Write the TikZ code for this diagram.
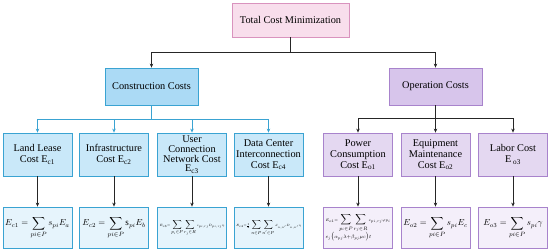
\documentclass[tikz,border=0pt]{standalone}
\usepackage{amsmath,amssymb}
\usepackage{graphicx}
\usepackage{fontspec}
\setmainfont{Liberation Serif}
\usepackage{tikz}
\usetikzlibrary{positioning, arrows.meta, calc}
\definecolor{pinkfill}{HTML}{F8DEEC}
\definecolor{pinkline}{HTML}{D993BE}
\definecolor{bluefill}{HTML}{ABDAF5}
\definecolor{blueline}{HTML}{3AA3D2}
\definecolor{bluelight}{HTML}{C9E8F9}
\definecolor{bluepale}{HTML}{E6F4FC}
\definecolor{violfill}{HTML}{D7C5EB}
\definecolor{violline}{HTML}{A883CC}
\definecolor{viollight}{HTML}{E4D8F1}
\definecolor{violpale}{HTML}{F4EFFA}
\tikzset{
  costbox/.style={draw, line width=0.8pt, align=center, inner sep=1pt,
    font=\fontsize{10.3}{11}\selectfont},
  topbox/.style={costbox, fill=pinkfill, draw=pinkline, minimum width=117pt, minimum height=34pt},
  consbox/.style={costbox, fill=bluefill, draw=blueline, minimum width=93pt, minimum height=37pt},
  operbox/.style={costbox, fill=violfill, draw=violline, minimum width=93pt, minimum height=37pt},
  citem/.style={costbox, fill=bluelight, draw=blueline, minimum width=69pt, minimum height=43pt},
  oitem/.style={costbox, fill=viollight, draw=violline, minimum width=69pt, minimum height=43pt},
  cform/.style={costbox, fill=bluepale, draw=blueline, minimum width=69pt, minimum height=41pt},
  oform/.style={costbox, fill=violpale, draw=violline, minimum width=69pt, minimum height=41pt},
  wire/.style={-{Stealth[length=4pt, width=3.5pt]}, line width=0.8pt, black!85},
  bluewire/.style={-{Stealth[length=4pt, width=3.5pt]}, line width=0.8pt, blueline}
}
\newcommand{\sub}[1]{\textsubscript{#1}}
\newcommand{\formula}[1]{\scalebox{0.88}{#1}}
\newcommand{\tinyterm}[1]{{\scriptscriptstyle #1}}

\begin{document}
\begin{tikzpicture}[x=1pt, y=-1pt]
        \useasboundingbox (0,0) rectangle (550,251);
        % upper levels
        \node[topbox]  (total) at (290.5, 20)   {Total Cost Minimization};
        \node[consbox] (cons)  at (151.5, 86.5) {Construction Costs};
        \node[operbox] (oper)  at (435.5, 86.5) {Operation Costs};
        % cost items
        \node[citem] (land)  at ( 37.5, 154.5) {Land Lease\\Cost E\sub{c1}};
        \node[citem] (infra) at (114,   154.5) {Infrastructure\\Cost E\sub{c2}};
        \node[citem, inner sep=0pt, font=\fontsize{10.3}{9.9}\selectfont]
                     (user)  at (192,   154.5) {User\\Connection\\Network Cost\\E\sub{c3}};
        \node[citem] (dci)   at (268.5, 154.5) {Data Center\\Interconnection\\Cost E\sub{c4}};
        \node[oitem] (power) at (358,   154.5) {Power\\Consumption\\Cost E\sub{o1}};
        \node[oitem] (equip) at (435.5, 154.5) {Equipment\\Maintenance\\Cost E\sub{o2}};
        \node[oitem] (labor) at (513,   154.5) {Labor Cost\\E\,\sub{o3}};
        % formulas
        \node[cform] (fland)  at ( 37.5, 227.5) {\formula{$E_{c1}=\displaystyle\sum_{pi\in P}s_{pi}E_a$}};
        \node[cform] (finfra) at (114,   227.5) {\formula{$E_{c2}=\displaystyle\sum_{pi\in P}\mathrm{s}_{pi}E_b$}};
        \node[cform] (fuser)  at (192,   227.5) {\resizebox{65pt}{!}{$\tinyterm{E_{c3}=}\displaystyle\sum_{p_i\in P}\sum_{r_j\in R}\tinyterm{c_{pi,rj}D_{pi,rj}\eta}$}};
        \node[cform] (fdci)   at (268.5, 227.5) {\resizebox{65pt}{!}{$\tinyterm{E_{c4}=\frac{1}{2}}\displaystyle\sum_{n\in P}\sum_{n'\in P}\tinyterm{d_{n,n'}D_{n,n'}\eta}$}};
        \node[oform] (fpower) at (358,   227.5) {\resizebox{65pt}{!}{\begin{tabular}{@{}l@{}}$\tinyterm{E_{o1}=}\displaystyle\sum_{p_i\in P}\sum_{r_j\in R}\tinyterm{c_{pi,rj}\varphi p_i}$\\[1pt]$\scriptstyle e_j\big(\alpha_{pj}\lambda+\beta_{pj}\mu c\big)t$\end{tabular}}};
        \node[oform] (fequip) at (435.5, 227.5) {\formula{$E_{o2}=\displaystyle\sum_{pi\in P}s_{pi}E_c$}};
        \node[oform] (flabor) at (513,   227.5) {\formula{$E_{o3}=\displaystyle\sum_{pi\in P}s_{pi}\gamma$}};
        % connectors
        \coordinate (jtotal) at (290.5, 52.5);
        \coordinate (jcons)  at (151.5, 119);
        \coordinate (joper)  at (435.5, 118);
        \draw[wire, -] (total) -- (jtotal);
        \draw[wire] (jtotal) -| (cons.north);
        \draw[wire] (jtotal) -| (oper.north);
        \draw[bluewire, -] (cons) -- (jcons);
        \foreach \n in {land, infra, user, dci}
          \draw[bluewire] (jcons) -| (\n.north);
        \draw[wire, -] (oper) -- (joper);
        \foreach \n in {power, equip, labor}
          \draw[wire] (joper) -| (\n.north);
        \foreach \a/\b in {land/fland, infra/finfra, user/fuser, dci/fdci,
                           power/fpower, equip/fequip, labor/flabor}
          \draw[wire] (\a) -- (\b);
      \end{tikzpicture}
\end{document}
